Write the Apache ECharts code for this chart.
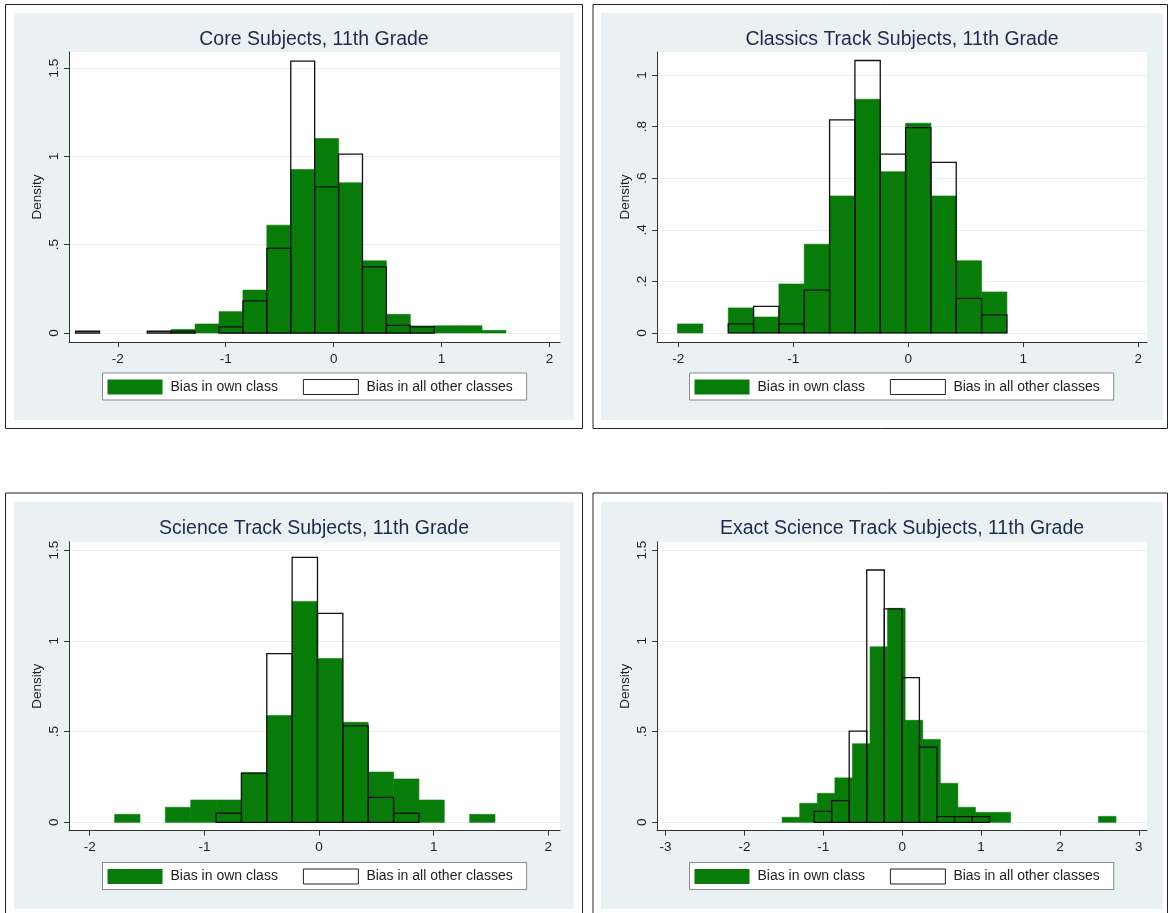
<!DOCTYPE html>
<html>
<head>
<meta charset="utf-8">
<script src="https://cdn.jsdelivr.net/npm/echarts@6.0.0/dist/echarts.min.js"></script>
<style>
html,body{margin:0;padding:0;background:#fff;}
#c{width:1170px;height:913px;}
</style>
</head>
<body>
<div id="c"></div>
<script>
// ---------------- DATA ----------------
const titles = [
  'Core Subjects, 11th Grade',
  'Classics Track Subjects, 11th Grade',
  'Science Track Subjects, 11th Grade',
  'Exact Science Track Subjects, 11th Grade'
];
const legendNames = ['Bias in own class', 'Bias in all other classes'];
const yAxisTitle = 'Density';

// Core subjects (histogram bins: start, width, densities)
const coreOwnStart = -2.391, coreOwnWidth = 0.2215;
const coreOwn   = [0, 0, 0, 0, 0.02, 0.051, 0.121, 0.243, 0.611, 0.926, 1.102, 0.851, 0.409, 0.106, 0.040, 0.041, 0.041, 0.015];
const coreOtherStart = -2.391, coreOtherWidth = 0.2215;
const coreOther = [0.01, 0, 0, 0.01, 0.011, 0, 0.035, 0.182, 0.479, 1.540, 0.828, 1.013, 0.375, 0.043, 0.035, 0, 0, 0];

// Classics track
const classOwnStart = -2.006, classOwnWidth = 0.2203;
const classOwn   = [0.035, 0, 0.097, 0.062, 0.190, 0.344, 0.531, 0.906, 0.625, 0.813, 0.531, 0.280, 0.159];
const classOtherStart = -2.006, classOtherWidth = 0.2203;
const classOther = [0, 0, 0.035, 0.103, 0.035, 0.166, 0.826, 1.056, 0.693, 0.796, 0.661, 0.134, 0.070];

// Science track
const sciOwnStart = -1.783, sciOwnWidth = 0.2212;
const sciOwn   = [0.044, 0, 0.083, 0.123, 0.123, 0.275, 0.589, 1.217, 0.903, 0.551, 0.277, 0.239, 0.123, 0, 0.044];
const sciOtherStart = -1.783, sciOtherWidth = 0.2212;
const sciOther = [0, 0, 0, 0, 0.050, 0.270, 0.929, 1.460, 1.151, 0.531, 0.138, 0.050, 0, 0, 0];

// Exact science track
const exOwnStart = -1.522, exOwnWidth = 0.2228;
const exOwn   = [0.028, 0.105, 0.160, 0.245, 0.433, 0.967, 1.179, 0.562, 0.457, 0.215, 0.083, 0.055, 0.055, 0, 0, 0, 0, 0, 0.033];
const exOtherStart = -1.117, exOtherWidth = 0.2225;
const exOther = [0.061, 0.120, 0.503, 1.390, 1.176, 0.797, 0.414, 0.031, 0.031, 0.031];

// Tick values and labels
const xTicks2 = [-2, -1, 0, 1, 2];
const xTickLabels2 = ['-2', '-1', '0', '1', '2'];
const xTicks3 = [-3, -2, -1, 0, 1, 2, 3];
const xTickLabels3 = ['-3', '-2', '-1', '0', '1', '2', '3'];
const yTicksHalf = [0, 0.5, 1, 1.5];
const yTickLabelsHalf = ['0', '.5', '1', '1.5'];
const yTicksFifth = [0, 0.2, 0.4, 0.6, 0.8, 1];
const yTickLabelsFifth = ['0', '.2', '.4', '.6', '.8', '1'];

// ---------------- LAYOUT / STYLE ----------------
const FONT = '"Liberation Sans", Arial, Helvetica, sans-serif';
const GREEN = '#087c08';
const AXIS = '#333';
const TEXT = '#1e1e1e';

const panels = [
  { title: titles[0], own: [coreOwnStart, coreOwnWidth, coreOwn], other: [coreOtherStart, coreOtherWidth, coreOther],
    xTicks: xTicks2, xLabels: xTickLabels2, yTicks: yTicksHalf, yLabels: yTickLabelsHalf,
    box: [5.5, 4.5, 577, 424], bg: [14, 13, 560, 407],
    grid: [69, 52, 491, 290], xr: [-2.452, 2.097], yr: [-0.051, 1.592],
    titlePos: [314, 40], legendPos: [102.5, 373] },
  { title: titles[1], own: [classOwnStart, classOwnWidth, classOwn], other: [classOtherStart, classOtherWidth, classOther],
    xTicks: xTicks2, xLabels: xTickLabels2, yTicks: yTicksFifth, yLabels: yTickLabelsFifth,
    box: [593, 4.5, 574.5, 424], bg: [601, 13, 562, 407],
    grid: [657, 52, 490, 290], xr: [-2.185, 2.076], yr: [-0.035, 1.089],
    titlePos: [902, 40], legendPos: [689.5, 373] },
  { title: titles[2], own: [sciOwnStart, sciOwnWidth, sciOwn], other: [sciOtherStart, sciOtherWidth, sciOther],
    xTicks: xTicks2, xLabels: xTickLabels2, yTicks: yTicksHalf, yLabels: yTickLabelsHalf,
    box: [5.5, 493, 577, 430], bg: [14, 502, 560, 407],
    grid: [69, 541.7, 491, 289], xr: [-2.181, 2.102], yr: [-0.046, 1.546],
    titlePos: [314, 529], legendPos: [102.5, 862.5] },
  { title: titles[3], own: [exOwnStart, exOwnWidth, exOwn], other: [exOtherStart, exOtherWidth, exOther],
    xTicks: xTicks3, xLabels: xTickLabels3, yTicks: yTicksHalf, yLabels: yTickLabelsHalf,
    box: [593, 493, 574.5, 430], bg: [601, 502, 562, 407],
    grid: [657, 541.7, 490, 289], xr: [-3.109, 3.104], yr: [-0.046, 1.546],
    titlePos: [902, 529], legendPos: [689.5, 862.5] }
];

function binData(spec) {
  const start = spec[0], width = spec[1], heights = spec[2];
  const out = [];
  heights.forEach((h, i) => {
    if (h > 0) out.push([start + i * width, start + (i + 1) * width, h]);
  });
  return out;
}

function labelFor(ticks, labels) {
  return function (v) {
    for (let i = 0; i < ticks.length; i++) {
      if (Math.abs(ticks[i] - v) < 1e-9) return labels[i];
    }
    return '';
  };
}

function makeRender(style) {
  return function (params, api) {
    const p0 = api.coord([api.value(0), 0]);
    const p1 = api.coord([api.value(1), api.value(2)]);
    return {
      type: 'rect',
      shape: { x: p0[0], y: p1[1], width: p1[0] - p0[0], height: p0[1] - p1[1] },
      style: style
    };
  };
}

const grids = [], xAxes = [], yAxes = [], series = [], legends = [], graphics = [];

panels.forEach((p, i) => {
  graphics.push({ type: 'rect', z: -20, silent: true,
    shape: { x: p.box[0], y: p.box[1], width: p.box[2], height: p.box[3] },
    style: { fill: '#ffffff', stroke: '#222', lineWidth: 1 } });
  graphics.push({ type: 'rect', z: -19, silent: true,
    shape: { x: p.bg[0], y: p.bg[1], width: p.bg[2], height: p.bg[3] },
    style: { fill: '#eaf1f3' } });
  graphics.push({ type: 'text', z: 10, silent: true, x: p.titlePos[0], y: p.titlePos[1],
    style: { text: p.title, fill: '#1d2a4e', fontSize: 19.5, fontFamily: FONT,
             align: 'center', verticalAlign: 'middle' } });

  grids.push({ left: p.grid[0], top: p.grid[1], width: p.grid[2], height: p.grid[3],
    show: true, backgroundColor: '#ffffff', borderWidth: 0, containLabel: false });

  xAxes.push({ gridIndex: i, type: 'value', min: p.xr[0], max: p.xr[1],
    axisLine: { show: true, onZero: false, lineStyle: { color: AXIS, width: 1 } },
    axisTick: { show: true, length: 5, customValues: p.xTicks, lineStyle: { color: AXIS } },
    axisLabel: { show: true, customValues: p.xTicks, formatter: labelFor(p.xTicks, p.xLabels),
      margin: 10, fontSize: 13.5, color: TEXT, fontFamily: FONT },
    splitLine: { show: false } });

  yAxes.push({ gridIndex: i, type: 'value', min: p.yr[0], max: p.yr[1],
    name: yAxisTitle, nameLocation: 'middle', nameGap: 25,
    nameTextStyle: { fontSize: 13.5, color: TEXT, fontFamily: FONT },
    axisLine: { show: true, onZero: false, lineStyle: { color: AXIS, width: 1 } },
    axisTick: { show: true, length: 5, customValues: p.yTicks, lineStyle: { color: AXIS } },
    axisLabel: { show: true, customValues: p.yTicks, formatter: labelFor(p.yTicks, p.yLabels),
      rotate: 90, margin: 8, fontSize: 13.5, color: TEXT, fontFamily: FONT },
    splitLine: { show: true, lineStyle: { color: '#e8eff1', width: 1 } } });

  series.push({ type: 'custom', name: legendNames[0], xAxisIndex: i, yAxisIndex: i, z: 2,
    data: binData(p.own), encode: { x: [0, 1], y: 2 }, silent: true,
    renderItem: makeRender({ fill: GREEN, stroke: GREEN, lineWidth: 0.6 }) });
  series.push({ type: 'custom', name: legendNames[1], xAxisIndex: i, yAxisIndex: i, z: 3,
    data: binData(p.other), encode: { x: [0, 1], y: 2 }, silent: true,
    renderItem: makeRender({ fill: 'none', stroke: '#111', lineWidth: 1.3 }) });

  legends.push({ left: p.legendPos[0], top: p.legendPos[1], orient: 'horizontal',
    backgroundColor: '#ffffff', borderColor: '#8a8a8a', borderWidth: 1, borderRadius: 0,
    padding: [6, 14, 5, 5], itemWidth: 55, itemHeight: 15, itemGap: 25, selectedMode: false,
    textStyle: { fontSize: 14, color: TEXT, fontFamily: FONT, padding: [1, 0, 0, 3] },
    data: [
      { name: legendNames[0], icon: 'rect', itemStyle: { color: GREEN, borderWidth: 0 } },
      { name: legendNames[1], icon: 'rect', itemStyle: { color: '#ffffff', borderColor: '#222', borderWidth: 1 } }
    ] });
});

const chart = echarts.init(document.getElementById('c'), null, { renderer: 'canvas' });
chart.setOption({
  animation: false,
  backgroundColor: '#ffffff',
  textStyle: { fontFamily: FONT },
  graphic: { elements: graphics },
  grid: grids,
  xAxis: xAxes,
  yAxis: yAxes,
  legend: legends,
  series: series
});
</script>
</body>
</html>
